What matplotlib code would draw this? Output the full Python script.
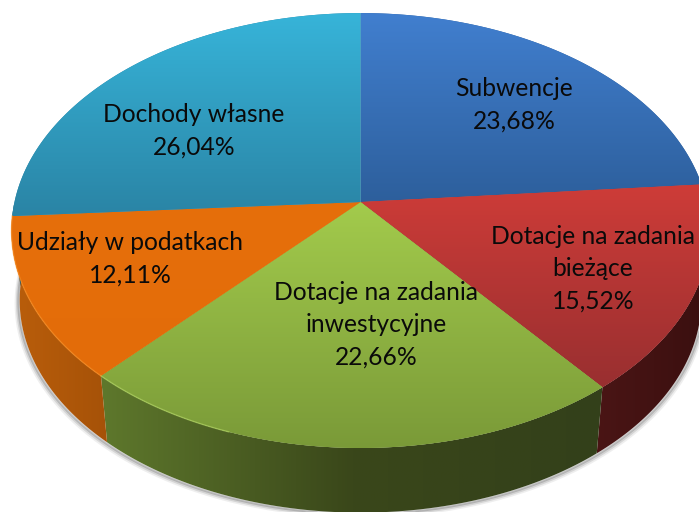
import numpy as np
import matplotlib
matplotlib.use("Agg")
import matplotlib.pyplot as plt
from matplotlib.patches import Polygon

categories = ["Subwencje", "Dotacje na zadania\nbieżące", "Dotacje na zadania\ninwestycyjne",
              "Udziały w podatkach", "Dochody własne"]
values = [23.68, 15.52, 22.66, 12.11, 26.04]

# colours of the top faces (top of wedge, bottom of wedge)
top_colors = [("#417FCF", "#2D5F9C"), ("#CE3C38", "#992F30"), ("#A3CB4C", "#7A9A38"),
              ("#E66F0B", "#E36C09"), ("#37B4D9", "#2A84A5")]
# colour stops left to right of the sides
side_colors = [["#2A4E80", "#2A4E80"], ["#4A1515", "#3A0F0F"], ["#5E782C", "#3A471A", "#33401A"],
               ["#BA5E0B", "#A65208"], ["#1F6078", "#1F6078"]]
rim_colors = [None, None, "#B4D863", "#FA9025", None]

# perspective of the disc, found from the picture
cx, cy = 360.5, 202.0
a, b, k = 346.0, 213.7, 0.1311
vanish_y = 3200.0
drop = 0.0235


def rim(theta):
    X = np.sin(theta)
    Y = -np.cos(theta)
    d = 1 - k * Y
    return cx + a * X / d, cy + b * Y / d


def lower(x, y):
    return x + drop * (cx - x), y + drop * (vanish_y - y)


def hex_rgb(c):
    return np.array(matplotlib.colors.to_rgb(c))


fig = plt.figure(figsize=(6.99, 5.12), dpi=100)
ax = fig.add_axes([0, 0, 1, 1])

edges = np.cumsum([0] + values) / np.sum(values) * 2 * np.pi

# soft shadow under the front of the disc
t = np.linspace(np.pi * 0.45, np.pi * 1.5, 300)
sx, sy = lower(*rim(t))
for off, lw, al in [(3.0, 3.0, 0.10), (2.0, 2.5, 0.18), (1.0, 2.0, 0.30)]:
    ax.plot(sx - off * (t > np.pi) + off * (t <= np.pi), sy + off, color="#606060", lw=lw, alpha=al,
            solid_capstyle="round", zorder=1)

# sides
for i in range(len(values)):
    t = np.linspace(edges[i], edges[i + 1], 200)
    t = t[-np.cos(t) >= 0]
    if len(t) < 2:
        continue
    x1, y1 = rim(t)
    x2, y2 = lower(x1, y1)
    pts = np.column_stack([np.r_[x1, x2[::-1]], np.r_[y1, y2[::-1]]])
    poly = Polygon(pts, closed=True, facecolor="none", edgecolor="none", zorder=2)
    ax.add_patch(poly)
    stops = np.array([hex_rgb(c) for c in side_colors[i]])
    pos = np.linspace(0, 1, len(stops))
    u = np.linspace(0, 1, 256)
    grad = np.stack([np.interp(u, pos, stops[:, c]) for c in range(3)], axis=-1)[None, :, :]
    im = ax.imshow(grad, extent=[pts[:, 0].min(), pts[:, 0].max(), pts[:, 1].max(), pts[:, 1].min()],
                   aspect="auto", interpolation="bilinear", zorder=2)
    im.set_clip_path(poly)

# top faces
for i in range(len(values)):
    t = np.linspace(edges[i], edges[i + 1], 300)
    x1, y1 = rim(t)
    pts = np.column_stack([np.r_[cx, x1], np.r_[cy, y1]])
    poly = Polygon(pts, closed=True, facecolor=top_colors[i][1], edgecolor="none", zorder=3)
    ax.add_patch(poly)
    c1, c2 = hex_rgb(top_colors[i][0]), hex_rgb(top_colors[i][1])
    v = np.linspace(0, 1, 256)[:, None, None]
    grad = c1[None, None, :] * (1 - v) + c2[None, None, :] * v
    im = ax.imshow(grad, extent=[pts[:, 0].min(), pts[:, 0].max(), pts[:, 1].max(), pts[:, 1].min()],
                   aspect="auto", interpolation="bilinear", zorder=3)
    im.set_clip_path(poly)
    if rim_colors[i]:
        keep = x1 < cx - 130
        ax.plot(x1[keep], y1[keep], color=rim_colors[i], lw=1.0, alpha=0.6, zorder=4)

# labels
label_xy = [(514, 104.5), (593, 268.5), (376, 325), (130, 259), (194, 130.5)]
for name, val, (lx, ly) in zip(categories, values, label_xy):
    txt = name + "\n" + ("%.2f" % val).replace(".", ",") + "%"
    ax.text(lx, ly, txt, ha="center", va="center", fontsize=17.7, family="Lato", color="#0A0A0A",
            linespacing=1.5, zorder=5)

ax.set_xlim(0, 699)
ax.set_ylim(512, 0)
ax.axis("off")
fig.savefig("out.png", dpi=100)
